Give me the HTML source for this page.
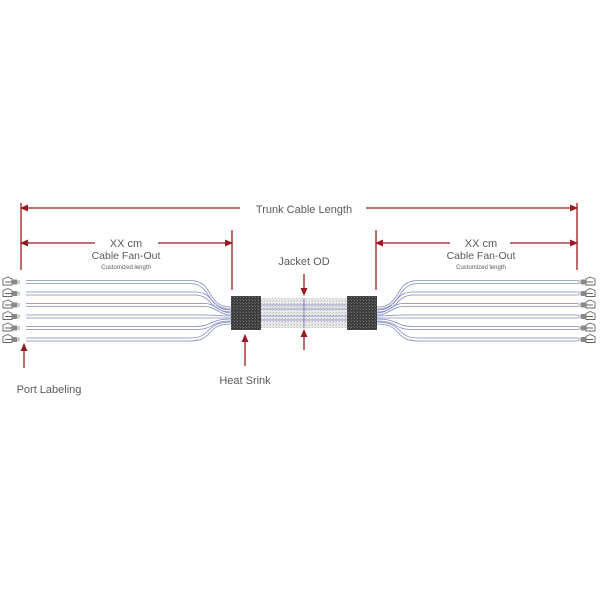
<!DOCTYPE html>
<html><head><meta charset="utf-8"><style>
html,body{margin:0;padding:0;background:#fff;}
svg{display:block;font-family:"Liberation Sans",sans-serif;}
</style></head><body>
<svg width="600" height="600" viewBox="0 0 600 600" xmlns="http://www.w3.org/2000/svg">
<defs>
<pattern id="dk" width="3" height="3" patternUnits="userSpaceOnUse"><rect width="3" height="3" fill="#3c3c3c"/><rect width="1" height="1" fill="#777"/><rect x="2" y="2" width="1" height="1" fill="#5a5a5a"/></pattern>
<pattern id="lt" width="3" height="3" patternUnits="userSpaceOnUse"><rect width="3" height="3" fill="#e6e6e6"/><rect width="1" height="1" fill="#aaa"/><rect x="2" y="1" width="1" height="1" fill="#c4c4c4"/></pattern>
<marker id="ah" markerWidth="8" markerHeight="8" refX="7" refY="4" orient="auto" markerUnits="userSpaceOnUse"><path d="M0,0.5 L8,4 L0,7.5 z" fill="#9b1b24"/></marker>
<g id="conn"><path d="M0,-3 L5,-5 L9,-3 L9,3 L0,3 Z M2,0 L9,0" fill="none" stroke="#666" stroke-width="0.9"/><rect x="9" y="-2.5" width="5" height="5" fill="#888"/><rect x="14" y="-2" width="3" height="4" fill="#ccc"/></g>
</defs>
<g stroke="#9b1b24" stroke-width="1.3" fill="none">
<line x1="21" y1="203" x2="21" y2="270"/><line x1="577" y1="203" x2="577" y2="270"/>
<line x1="232" y1="230" x2="232" y2="290"/><line x1="376" y1="230" x2="376" y2="290"/>
<line x1="240" y1="208" x2="21" y2="208" marker-end="url(#ah)"/>
<line x1="366" y1="208" x2="577" y2="208" marker-end="url(#ah)"/>
<line x1="95" y1="243" x2="21" y2="243" marker-end="url(#ah)"/>
<line x1="158" y1="243" x2="232" y2="243" marker-end="url(#ah)"/>
<line x1="450" y1="243" x2="376" y2="243" marker-end="url(#ah)"/>
<line x1="510" y1="243" x2="577" y2="243" marker-end="url(#ah)"/>
<line x1="304" y1="274" x2="304" y2="295" marker-end="url(#ah)"/>
<line x1="304" y1="350" x2="304" y2="330" marker-end="url(#ah)"/>
<line x1="245" y1="366" x2="245" y2="335" marker-end="url(#ah)"/>
<line x1="24" y1="368" x2="24" y2="344" marker-end="url(#ah)"/>
</g>
<g fill="#5a5a5a" text-anchor="middle">
<text x="304" y="213" font-size="11">Trunk Cable Length</text>
<text x="126" y="247" font-size="11">XX cm</text>
<text x="126" y="259" font-size="10.5">Cable Fan-Out</text>
<text x="126" y="269" font-size="6">Customized length</text>
<text x="481" y="247" font-size="11">XX cm</text>
<text x="481" y="259" font-size="10.5">Cable Fan-Out</text>
<text x="481" y="269" font-size="6">Customized length</text>
<text x="304" y="265" font-size="11">Jacket OD</text>
<text x="245" y="384" font-size="11">Heat Srink</text>
<text x="49" y="393" font-size="11">Port Labeling</text>
</g>
<g fill="none" stroke="#8088c0" stroke-width="0.8">
<g id="lc">
<path d="M26,280.5 H190 C215,280.5 205,307 231,307"/><path d="M26,283.5 H190 C212,283.5 205,309 231,309"/>
<path d="M26,292 H195 C215,292 210,310 231,310"/><path d="M26,295 H195 C212,295 210,312 231,312"/>
<path d="M26,303.5 H205 C215,303.5 220,313 231,313"/><path d="M26,306.5 H205 C215,306.5 220,315 231,315"/>
<path d="M26,315 H205 C215,315 220,316 231,316"/><path d="M26,318 H205 C215,318 220,318 231,318"/>
<path d="M26,326.5 H195 C212,326.5 210,319 231,319"/><path d="M26,329.5 H195 C215,329.5 210,321 231,321"/>
<path d="M26,338 H190 C212,338 205,322 231,322"/><path d="M26,341 H190 C215,341 205,324 231,324"/>
</g>
<use href="#lc" transform="translate(608,0) scale(-1,1)"/>
</g>
<g>
<use href="#conn" transform="translate(3,282)"/><use href="#conn" transform="translate(3,293.5)"/>
<use href="#conn" transform="translate(3,305)"/><use href="#conn" transform="translate(3,316.5)"/>
<use href="#conn" transform="translate(3,328)"/><use href="#conn" transform="translate(3,339.5)"/>
<g transform="translate(598,0) scale(-1,1)">
<use href="#conn" transform="translate(3,282)"/><use href="#conn" transform="translate(3,293.5)"/>
<use href="#conn" transform="translate(3,305)"/><use href="#conn" transform="translate(3,316.5)"/>
<use href="#conn" transform="translate(3,328)"/><use href="#conn" transform="translate(3,339.5)"/>
</g>
</g>
<rect x="261" y="298" width="86" height="30" fill="url(#lt)" opacity="0.85"/>
<g stroke="#8088c0" stroke-width="0.8"><line x1="261" y1="305" x2="347" y2="305"/><line x1="261" y1="309" x2="347" y2="309"/><line x1="261" y1="316" x2="347" y2="316"/><line x1="261" y1="320" x2="347" y2="320"/></g>
<line x1="304" y1="298" x2="304" y2="328" stroke="#6670a8" stroke-width="0.8"/>
<rect x="231" y="296" width="30" height="34" fill="url(#dk)"/>
<rect x="347" y="296" width="30" height="34" fill="url(#dk)"/>
</svg>
</body></html>
